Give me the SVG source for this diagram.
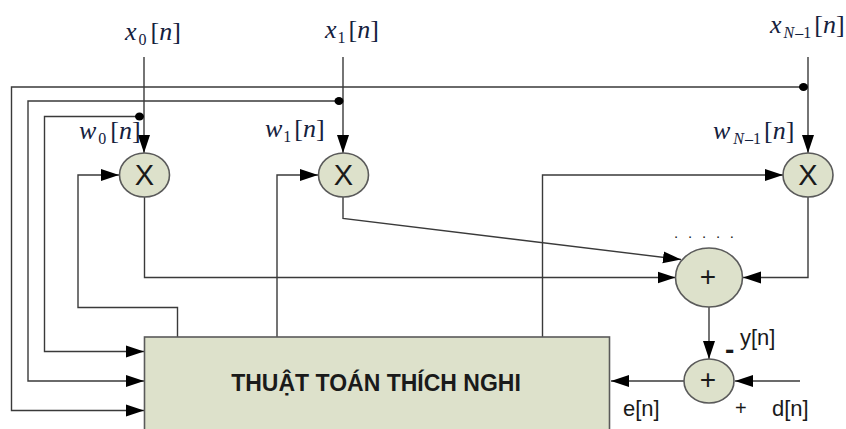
<svg xmlns="http://www.w3.org/2000/svg" width="846" height="429" viewBox="0 0 846 429">
<style>
.l{fill:none;stroke:#3a3a3a;stroke-width:1.4}
.n{fill:#dde1cb;stroke:#5a5a5a;stroke-width:1.6}
.a{font-family:"Liberation Sans",Arial,sans-serif;fill:#1a1a1a}
.m{font-family:"Liberation Serif","Times New Roman",serif;fill:#14213d;font-size:26px}
.i{font-style:italic}
.s{font-size:16px}
.d{fill:#000;stroke:none}
</style>
<defs>
<marker id="ah" markerUnits="userSpaceOnUse" markerWidth="18" markerHeight="14" refX="18" refY="7" orient="auto"><path d="M0 1L18 7L0 13Z" fill="#000"/></marker>
</defs>
<rect width="846" height="429" fill="#fff"/>
<g id="connectors">
<path class="l" d="M144 57V153" marker-end="url(#ah)"/>
<path class="l" d="M343 57V153" marker-end="url(#ah)"/>
<path class="l" d="M808 57V153" marker-end="url(#ah)"/>
<path class="l" d="M804 87H11.500V410.500H144" marker-end="url(#ah)"/>
<path class="l" d="M339 101H28V381H144" marker-end="url(#ah)"/>
<path class="l" d="M139 116.500H44.500V351.500H144" marker-end="url(#ah)"/>
<path class="l" d="M177.500 337V307.500H78V175H119" marker-end="url(#ah)"/>
<path class="l" d="M277 337V175H318" marker-end="url(#ah)"/>
<path class="l" d="M542.500 337V175H783" marker-end="url(#ah)"/>
<path class="l" d="M144.500 197V277.500H675.500" marker-end="url(#ah)"/>
<path class="l" d="M343 197V218.500L681 259.500" marker-end="url(#ah)"/>
<path class="l" d="M808 197V277.500H743" marker-end="url(#ah)"/>
<path class="l" d="M709 307V359" marker-end="url(#ah)"/>
<path class="l" d="M684 381H611" marker-end="url(#ah)"/>
<path class="l" d="M800 381H735" marker-end="url(#ah)"/>
<ellipse class="d" cx="139.500" cy="116.500" rx="4.500" ry="4"/>
<ellipse class="d" cx="339" cy="101" rx="4.500" ry="4"/>
<ellipse class="d" cx="803.500" cy="87" rx="4.500" ry="4"/>
</g>
<g id="mult0"><ellipse class="n" cx="144.500" cy="175" rx="25" ry="22"/><text class="a" x="144.500" y="185" font-size="29" text-anchor="middle">X</text></g>
<g id="mult1"><ellipse class="n" cx="343.500" cy="175" rx="25" ry="22"/><text class="a" x="343.500" y="185" font-size="29" text-anchor="middle">X</text></g>
<g id="multN"><ellipse class="n" cx="808" cy="175" rx="25" ry="22"/><text class="a" x="808" y="185" font-size="29" text-anchor="middle">X</text></g>
<g id="sum"><ellipse class="n" cx="709" cy="277.500" rx="33.500" ry="29.500"/><text class="a" x="708" y="286" font-size="28" text-anchor="middle">+</text></g>
<g id="error"><ellipse class="n" cx="709" cy="381" rx="25" ry="22"/><text class="a" x="708" y="388.500" font-size="28" text-anchor="middle">+</text></g>
<g id="algorithm"><rect class="n" x="144.500" y="337" width="465" height="100"/><text class="a" x="376" y="390.500" font-size="23" font-weight="bold" text-anchor="middle" fill="#111">THUẬT TOÁN THÍCH NGHI</text></g>
<g id="labels">
<text class="m" x="125" y="40"><tspan class="i">x</tspan><tspan class="s" dy="5" dx="2">0</tspan><tspan dy="-5" dx="4">[</tspan><tspan class="i">n</tspan>]</text>
<text class="m" x="325" y="38"><tspan class="i">x</tspan><tspan class="s" dy="5" dx="1">1</tspan><tspan dy="-5" dx="3">[</tspan><tspan class="i">n</tspan>]</text>
<text class="m" x="770" y="33"><tspan class="i">x</tspan><tspan class="s i" dy="5" dx="2">N</tspan><tspan class="s" dx="1">–1</tspan><tspan dy="-5" dx="3">[</tspan><tspan class="i">n</tspan>]</text>
<text class="m" x="79" y="139"><tspan class="i">w</tspan><tspan class="s" dy="5" dx="2">0</tspan><tspan dy="-5" dx="4">[</tspan><tspan class="i">n</tspan>]</text>
<text class="m" x="265" y="137"><tspan class="i">w</tspan><tspan class="s" dy="5" dx="1">1</tspan><tspan dy="-5" dx="3">[</tspan><tspan class="i">n</tspan>]</text>
<text class="m" x="713" y="139"><tspan class="i">w</tspan><tspan class="s i" dy="5" dx="3">N</tspan><tspan class="s" dx="1">–1</tspan><tspan dy="-5" dx="3">[</tspan><tspan class="i">n</tspan>]</text>
<text class="a" x="740" y="345" font-size="22">y[n]</text>
<text class="a" x="725" y="358.500" font-size="28" font-weight="bold">-</text>
<text class="a" x="623" y="416" font-size="22">e[n]</text>
<text class="a" x="735" y="415" font-size="20">+</text>
<text class="a" x="772" y="416" font-size="22">d[n]</text>
<text class="a" x="674" y="238" font-size="15" letter-spacing="9.800">.....</text>
</g>
</svg>
